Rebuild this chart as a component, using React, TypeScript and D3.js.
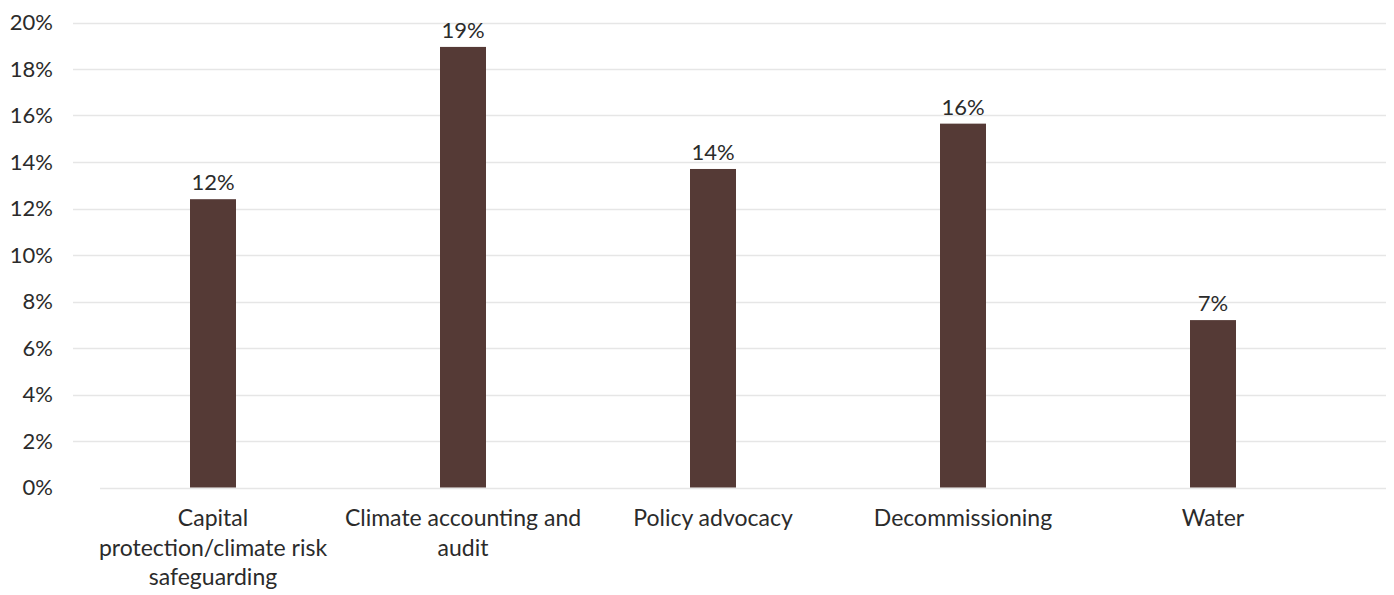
import React from "react";
import * as d3 from "d3";

const categories: string[][] = [
  ["Capital", "protection/climate risk", "safeguarding"],
  ["Climate accounting and", "audit"],
  ["Policy advocacy"],
  ["Decommissioning"],
  ["Water"],
];
const values: number[] = [12.4, 18.95, 13.7, 15.65, 7.2];
const yTicks: number[] = [0, 2, 4, 6, 8, 10, 12, 14, 16, 18, 20];

const W = 1394;
const H = 595;
const FONT = "Lato, 'Open Sans', sans-serif";
const TEXT = "#2b2b2b";
const BAR = "#553a36";
const FS = 22;
const FS_CAT = 23;

export default function App() {
  const x = d3.scaleBand<number>().domain(d3.range(values.length)).range([88, 1338]).paddingInner(0).paddingOuter(0);
  const y = d3.scaleLinear().domain([0, 20]).range([487.5, 22.5]);
  const barW = 46;
  return (
    <svg width={W} height={H} style={{ position: "absolute", left: 0, top: 0, background: "#fff" }}>
      {yTicks.map((t) => (
        <g key={t}>
          <line x1={t === 0 ? 100 : 73} x2={1386} y1={Math.round(y(t)) + 0.5} y2={Math.round(y(t)) + 0.5} stroke="#e6e6e6" strokeWidth={1.5} />
          <text x={53} y={y(t)} dy="0.35em" textAnchor="end" fontFamily={FONT} fontSize={FS} fill={TEXT}>
            {t}%
          </text>
        </g>
      ))}
      {values.map((v, i) => {
        const cx = (x(i) as number) + x.bandwidth() / 2;
        return (
          <g key={i}>
            <rect x={cx - barW / 2} y={y(v)} width={barW} height={y(0) - y(v)} fill={BAR} />
            <text x={cx} y={y(v) - 9} textAnchor="middle" fontFamily={FONT} fontSize={FS} fill={TEXT}>
              {Math.round(v)}%
            </text>
            {categories[i].map((line, j) => (
              <text key={j} x={cx} y={518 + j * 29.5} dy="0.35em" textAnchor="middle" fontFamily={FONT} fontSize={FS_CAT} fill={TEXT}>
                {line}
              </text>
            ))}
          </g>
        );
      })}
    </svg>
  );
}
